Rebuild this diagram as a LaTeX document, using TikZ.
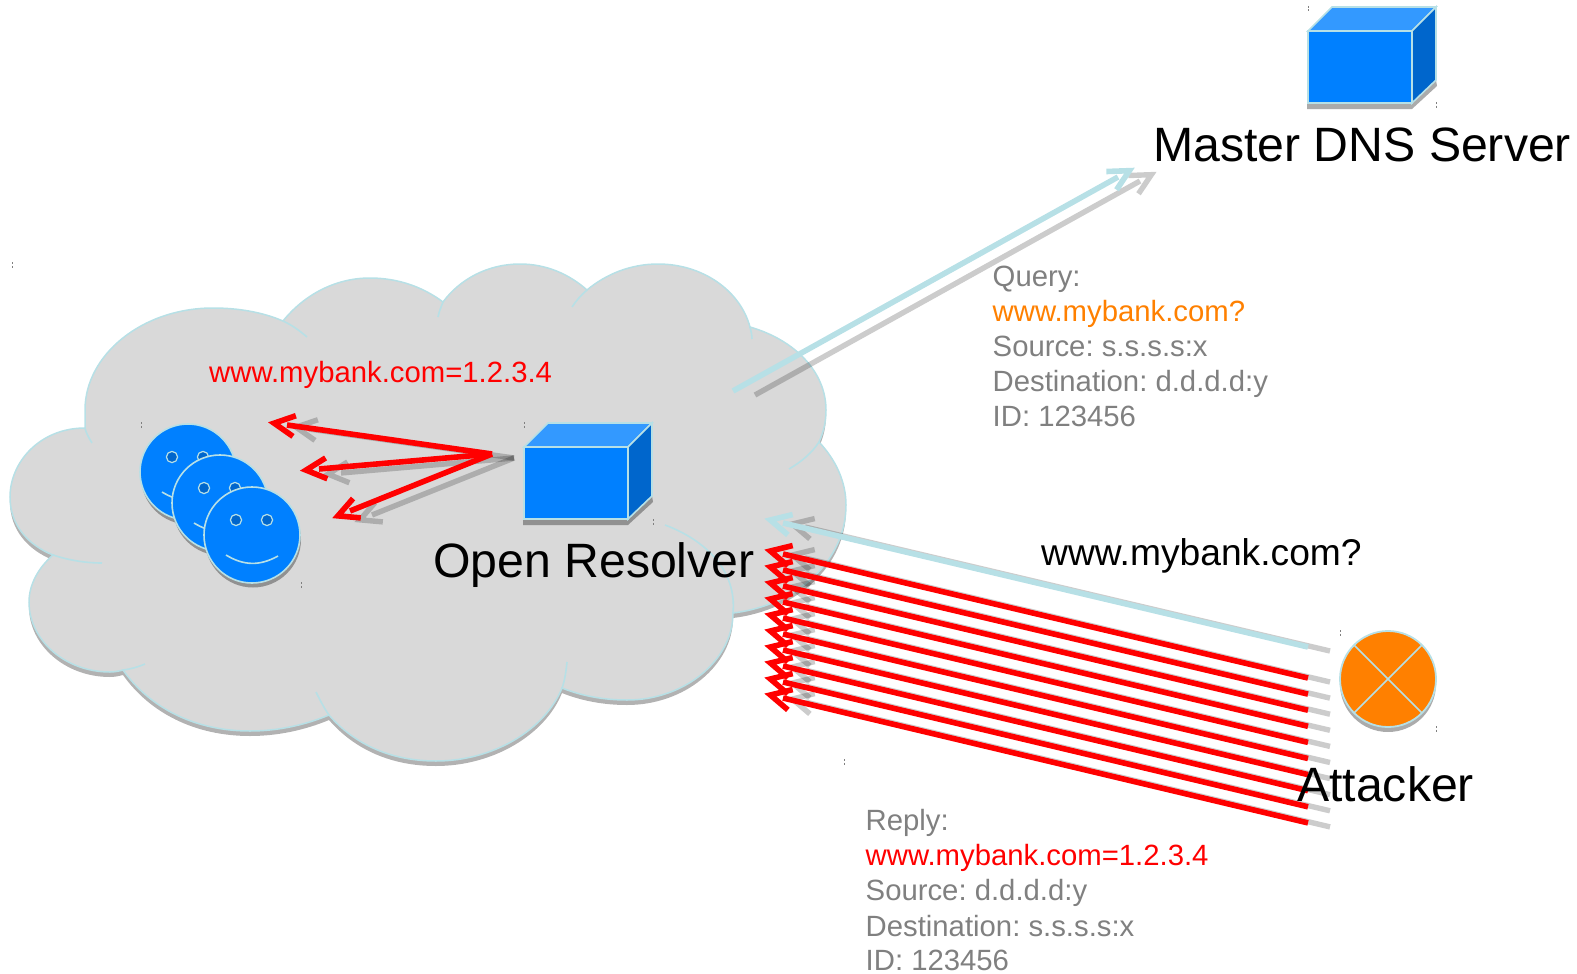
\documentclass[tikz,border=0pt]{standalone}
\usepackage{fontspec}
\setmainfont{Liberation Sans}
\usetikzlibrary{calc}
\definecolor{edgeblue}{HTML}{B7E0E6}
\definecolor{cloudgray}{HTML}{D9D9D9}
\definecolor{mainblue}{HTML}{0080FF}
\definecolor{topblue}{HTML}{3399FF}
\definecolor{sideblue}{HTML}{0066CC}
\definecolor{attorange}{HTML}{FF8000}
\definecolor{txtgray}{HTML}{808080}
\tikzset{
  redline/.style={draw=red,line width=5.6pt,miter limit=10},
  blueline/.style={draw=edgeblue,line width=5.6pt,miter limit=10},
  shadowline/.style={draw=black,draw opacity=.2,line width=5.4pt,miter limit=10},
  dropshadow/.style={fill=black,fill opacity=.33,draw=none},
  edge/.style={draw=edgeblue,line width=1.6pt},
  bigtxt/.style={anchor=base west,inner sep=0pt,font=\fontsize{48.2}{50}\selectfont,text=black},
  midtxt/.style={anchor=base west,inner sep=0pt,font=\fontsize{37.2}{40}\selectfont,text=black},
  smalltxt/.style={anchor=base west,inner sep=0pt,font=\fontsize{29.3}{32}\selectfont,text=txtgray},
  tickmark/.style={draw=gray,line width=.7pt,dash pattern=on 2pt off 1.5pt}
}
\newcommand{\chev}[3]{%
  \coordinate (tipA) at ($(#2)!-13pt!(#1)$);
  \draw[#3] (#1) -- (#2);
  \draw[#3] ($(tipA)!23pt!27:(#1)$) -- (tipA) -- ($(tipA)!23pt!-27:(#1)$);
}
\newcommand{\chevshadow}[2]{%
  \coordinate (sA) at ($(#1)+(22,4)$);
  \coordinate (sB) at ($(#2)+(22,4)$);
  \chev{sA}{sB}{shadowline}
}
\newcommand{\cube}[2]{%
  \begin{scope}[shift={(#1,#2)}]
    \fill[dropshadow] (-1,72) -- (104,72) -- (128,49) -- (129,55) -- (104,78) -- (-1,78) -- cycle;
    \filldraw[fill=mainblue,draw=edgeblue,line width=1.6pt] (0,0) rectangle (104,72);
    \filldraw[fill=topblue,draw=edgeblue,line width=1.6pt] (0,0) -- (24,-24) -- (128,-24) -- (104,0) -- cycle;
    \filldraw[fill=sideblue,draw=edgeblue,line width=1.6pt] (104,0) -- (128,-24) -- (128,49) -- (104,72) -- cycle;
  \end{scope}
}
\newcommand{\smiley}[2]{%
  \begin{scope}[shift={(#1,#2)}]
    \fill[dropshadow] (1,4.5) circle (48);
    \filldraw[fill=mainblue,draw=edgeblue,line width=1.6pt] (0,0) circle (48);
    \filldraw[fill=sideblue,draw=edgeblue,line width=1.2pt] (-16,-15) circle (5.6);
    \filldraw[fill=sideblue,draw=edgeblue,line width=1.2pt] (15,-15) circle (5.6);
    \draw[edge] (-26,20) .. controls (-8,31) and (8,31) .. (26,21);
  \end{scope}
}
\def\cloudpath{(85,428) .. controls (40,428) and (10,462) .. (10,497) .. controls (10,525) and (28,545) .. (53,555)
 .. controls (38,568) and (29,585) .. (29,602) .. controls (29,640) and (65,672) .. (110,672) .. controls (115,672) and (119,671) .. (123,670)
 .. controls (150,708) and (195,731) .. (250,731) .. controls (278,731) and (305,725) .. (329,715)
 .. controls (355,745) and (392,761) .. (436,761) .. controls (493,761) and (545,730) .. (562,688)
 .. controls (582,696) and (604,700) .. (627,700) .. controls (685,700) and (733,660) .. (733,613)
 .. controls (798,605) and (846,560) .. (846,505) .. controls (846,482) and (836,460) .. (819,442)
 .. controls (824,431) and (826,421) .. (826,410) .. controls (826,372) and (795,340) .. (750,327)
 .. controls (740,290) and (702,264) .. (658,264) .. controls (631,264) and (606,274) .. (587,290)
 .. controls (569,274) and (546,264) .. (520,264) .. controls (488,264) and (460,279) .. (443,302)
 .. controls (423,287) and (398,278) .. (370,278) .. controls (335,278) and (304,295) .. (283,321)
 .. controls (262,312) and (238,308) .. (213,308) .. controls (142,308) and (85,355) .. (85,410) .. controls (85,416) and (85,422) .. (85,428)
 -- cycle}
\begin{document}
\begin{tikzpicture}[x=1pt,y=-1pt,every node/.append style={execute at begin node=\frenchspacing}]
\useasboundingbox (0,0) rectangle (1577,974);
% cloud
\path[fill=black,fill opacity=.3,shift={(0,5)}] \cloudpath;
\path[fill=cloudgray,draw=edgeblue,line width=1.5pt,line join=miter] \cloudpath;
% cloud inner strokes
\draw[edge] (85,428) .. controls (86,433) and (89,438) .. (92,443);
\draw[edge] (283,321) .. controls (292,325) and (300,331) .. (307,337);
\draw[edge] (443,302) .. controls (441,307) and (439,312) .. (438,317);
\draw[edge] (587,290) .. controls (581,295) and (576,301) .. (572,307);
\draw[edge] (750,327) .. controls (751,331) and (752,335) .. (752,339);
\draw[edge] (819,442) .. controls (812,453) and (801,462) .. (789,469);
\draw[edge] (53,555) .. controls (68,560) and (85,563) .. (102,563);
\draw[edge] (123,670) .. controls (131,669) and (138,667) .. (145,664);
\draw[edge] (329,715) .. controls (324,708) and (320,700) .. (316,692);
\draw[edge] (562,688) .. controls (565,680) and (566,671) .. (567,662);
\draw[edge] (733,613) .. controls (737,570) and (705,540) .. (665,525);
% selection ticks
\foreach \tx/\ty in {12/265,141/425,301/585,524/425,653/522,1340/633,1436/729,1308/9,1436/105,844/762}
  \draw[tickmark] (\tx,\ty-3) -- (\tx,\ty+3);
% servers and people
\cube{1308}{31}
\cube{524}{447}
\smiley{188}{472}
\smiley{220}{503}
\smiley{252}{535}
% attacker
\fill[dropshadow] (1388,684) circle (48);
\filldraw[fill=attorange,draw=edgeblue,line width=1.8pt] (1388,679) coordinate (attc) circle (48);
\draw[edge] ($(attc)+(-34,-34)$) -- ($(attc)+(34,34)$);
\draw[edge] ($(attc)+(34,-34)$) -- ($(attc)+(-34,34)$);
% named arrow ends
\coordinate (fan) at (492,454);
\coordinate (pc1) at (287,425);
\coordinate (pc2) at (319,469);
\coordinate (pc3) at (350,511);
\coordinate (qs) at (733,391);
\coordinate (qe) at (1118,177);
\coordinate (as) at (1308,647);
\coordinate (ae) at (783,523);
\foreach \i in {0,...,9}{
  \coordinate (rs\i) at (1308,{678+16.1*\i});
  \coordinate (re\i) at (783,{554+16*\i});
}
% grey copies
\chevshadow{fan}{pc1}
\chevshadow{fan}{pc2}
\chevshadow{fan}{pc3}
\chevshadow{qs}{qe}
\chevshadow{as}{ae}
\foreach \i in {0,...,9}{\chevshadow{rs\i}{re\i}}
% coloured arrows
\chev{qs}{qe}{blueline}
\chev{as}{ae}{blueline}
\foreach \i in {0,...,9}{\chev{rs\i}{re\i}{redline}}
\chev{fan}{pc1}{redline}
\chev{fan}{pc2}{redline}
\chev{fan}{pc3}{redline}
% labels
\node[bigtxt] (master) at (1153,161) {Master DNS Server};
\node[bigtxt] (resolver) at (433,577) {Open Resolver};
\node[bigtxt] (attacker) at (1297,801) {Attacker};
\node[midtxt] (qtext) at (1041,565) {www.mybank.com?};
\node[smalltxt,text=red] (cache) at (209,382) {www.mybank.com=1.2.3.4};
\node[smalltxt] (q1) at (992.5,286) {Query:};
\node[smalltxt,text=attorange] (q2) at (992.5,321) {www.mybank.com?};
\node[smalltxt] (q3) at (992.5,356) {Source: s.s.s.s:x};
\node[smalltxt] (q4) at (992.5,391.5) {Destination: d.d.d.d:y};
\node[smalltxt] (q5) at (992.5,426.5) {ID: 123456};
\node[smalltxt] (r1) at (865.5,830) {Reply:};
\node[smalltxt,text=red] (r2) at (865.5,865) {www.mybank.com=1.2.3.4};
\node[smalltxt] (r3) at (865.5,900) {Source: d.d.d.d:y};
\node[smalltxt] (r4) at (865.5,936) {Destination: s.s.s.s:x};
\node[smalltxt] (r5) at (865.5,970) {ID: 123456};
\end{tikzpicture}
\end{document}
